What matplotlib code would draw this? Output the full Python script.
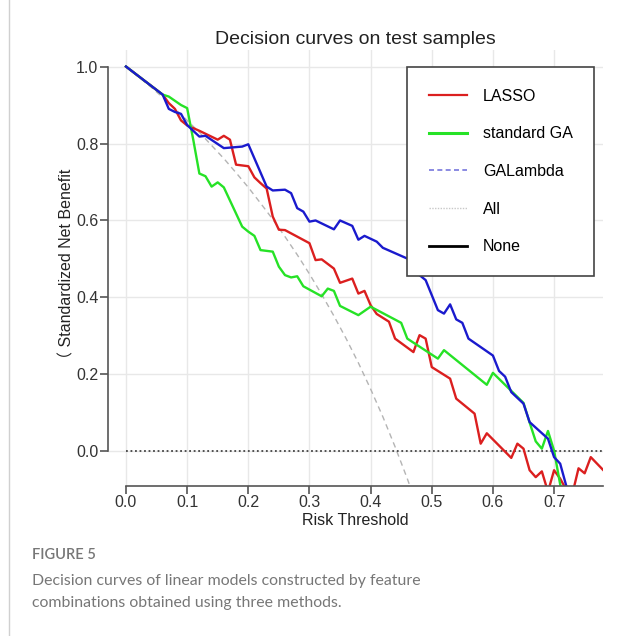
import matplotlib.pyplot as plt
from matplotlib.lines import Line2D

plt.rcParams["font.family"] = ["Liberation Sans", "Noto Sans CJK SC", "DejaVu Sans"]
plt.rcParams["font.size"] = 11.5
plt.rcParams["axes.linewidth"] = 1.2

# thresholds / standardized net benefit
thr_lasso = [0.00, 0.06, 0.07, 0.08, 0.09, 0.10, 0.12, 0.15, 0.16, 0.17, 0.18, 0.20,
             0.21, 0.22, 0.23, 0.24, 0.25, 0.26, 0.30, 0.31, 0.32, 0.34, 0.35, 0.37,
             0.38, 0.39, 0.40, 0.41, 0.43, 0.44, 0.47, 0.48, 0.49, 0.50, 0.53, 0.54,
             0.57, 0.58, 0.59, 0.63, 0.64, 0.65, 0.66, 0.67, 0.68, 0.69, 0.70, 0.71,
             0.72, 0.73, 0.74, 0.75, 0.76, 0.78]
nb_lasso = [1.000, 0.927, 0.905, 0.890, 0.860, 0.847, 0.833, 0.810, 0.820, 0.810, 0.745, 0.741,
            0.712, 0.697, 0.683, 0.610, 0.576, 0.575, 0.541, 0.497, 0.499, 0.475, 0.438, 0.449,
            0.410, 0.417, 0.380, 0.357, 0.337, 0.293, 0.258, 0.302, 0.293, 0.219, 0.189, 0.137,
            0.098, 0.020, 0.047, -0.017, 0.020, 0.007, -0.049, -0.067, -0.052, -0.105, -0.049, -0.071,
            -0.100, -0.110, -0.044, -0.057, -0.015, -0.048]

thr_ga = [0.00, 0.06, 0.07, 0.09, 0.10, 0.11, 0.12, 0.13, 0.14, 0.15, 0.16, 0.19,
          0.20, 0.21, 0.22, 0.24, 0.25, 0.26, 0.27, 0.28, 0.29, 0.32, 0.33, 0.34,
          0.35, 0.38, 0.40, 0.45, 0.46, 0.51, 0.52, 0.59, 0.60, 0.65, 0.66, 0.67,
          0.68, 0.69, 0.70, 0.71, 0.72]
nb_ga = [1.000, 0.927, 0.922, 0.900, 0.892, 0.810, 0.722, 0.715, 0.688, 0.699, 0.686, 0.584,
         0.571, 0.560, 0.523, 0.519, 0.480, 0.458, 0.452, 0.455, 0.429, 0.403, 0.423, 0.417,
         0.378, 0.354, 0.376, 0.334, 0.293, 0.241, 0.263, 0.173, 0.204, 0.126, 0.075, 0.026,
         0.007, 0.053, 0.002, -0.086, -0.150]

thr_gal = [0.00, 0.06, 0.07, 0.08, 0.09, 0.10, 0.12, 0.13, 0.16, 0.19, 0.20, 0.23,
           0.24, 0.26, 0.27, 0.28, 0.29, 0.30, 0.31, 0.34, 0.35, 0.37, 0.38, 0.39,
           0.41, 0.42, 0.46, 0.48, 0.49, 0.51, 0.52, 0.53, 0.54, 0.55, 0.56, 0.60,
           0.61, 0.62, 0.63, 0.65, 0.66, 0.69, 0.70, 0.71, 0.72, 0.73]
nb_gal = [1.000, 0.927, 0.890, 0.882, 0.877, 0.848, 0.818, 0.820, 0.788, 0.792, 0.798, 0.688,
          0.678, 0.680, 0.671, 0.632, 0.623, 0.597, 0.600, 0.577, 0.600, 0.586, 0.550, 0.560,
          0.545, 0.529, 0.501, 0.458, 0.445, 0.367, 0.358, 0.382, 0.343, 0.334, 0.293, 0.249,
          0.209, 0.194, 0.154, 0.124, 0.076, 0.033, -0.015, -0.032, -0.090, -0.150]

thr_all = [0.00, 0.02, 0.04, 0.06, 0.08, 0.10, 0.12, 0.14, 0.16, 0.18, 0.20, 0.22, 0.24,
           0.26, 0.28, 0.30, 0.32, 0.34, 0.36, 0.38, 0.40, 0.42, 0.44, 0.46, 0.48]
nb_all = [1.000, 0.974, 0.948, 0.920, 0.891, 0.860, 0.829, 0.795, 0.761, 0.724, 0.686, 0.645, 0.603,
          0.558, 0.511, 0.461, 0.408, 0.352, 0.293, 0.230, 0.162, 0.090, 0.012, -0.071, -0.160]

thr_none = [0.0, 0.78]
nb_none = [0.0, 0.0]

c_red = "#db1f1f"
c_green = "#26e226"
c_blue = "#1a1acd"

fig = plt.figure(figsize=(6.44, 6.36), dpi=100)
# axes box in pixels: left 108, right 603, top 50, bottom 486
ax = fig.add_axes([108 / 644, 1 - 486 / 636, (603 - 108) / 644, (486 - 50) / 636])

ax.plot(thr_all, nb_all, color="#b4b4b4", lw=1.0, ls=(0, (4, 3)))
ax.plot(thr_none, nb_none, color="#444444", lw=1.3, ls=(0, (1, 1.5)))
ax.plot(thr_lasso, nb_lasso, color=c_red, lw=1.7)
ax.plot(thr_ga, nb_ga, color=c_green, lw=1.7)
ax.plot(thr_gal, nb_gal, color=c_blue, lw=1.7)

ax.set_xlim(-0.0294, 0.78)
ax.set_ylim(-0.09, 1.043)
ax.set_xticks([0.0, 0.1, 0.2, 0.3, 0.4, 0.5, 0.6, 0.7])
ax.set_yticks([0.0, 0.2, 0.4, 0.6, 0.8, 1.0])
ax.grid(color="#e8e8e8", lw=1.0)
ax.set_axisbelow(True)

for s in ["top", "right"]:
    ax.spines[s].set_visible(False)
ax.spines["left"].set_bounds(0.0, 1.0)
ax.spines["bottom"].set_bounds(0.0, 0.78)
ax.spines["left"].set_color("#555555")
ax.spines["bottom"].set_color("#555555")
ax.tick_params(axis="x", direction="out", length=5.5, width=1.2, pad=1, color="#555555",
               labelcolor="#333333")
ax.tick_params(axis="y", direction="out", length=6, width=1.2, pad=1, color="#555555",
               labelcolor="#333333")

ax.set_title("Decision curves on test samples", fontsize=14, pad=4, color="#222222")
ax.set_xlabel("Risk Threshold", fontsize=11.5, labelpad=2, color="#222222")
ax.set_ylabel("（ Standardized Net Benefit", fontsize=11.5, labelpad=1, color="#222222")

handles = [
    Line2D([], [], color=c_red, lw=1.6),
    Line2D([], [], color=c_green, lw=2.2),
    Line2D([], [], color="#7777dd", lw=1.2, ls=(0, (3, 2))),
    Line2D([], [], color="#c8c8c8", lw=1.0, ls=(0, (1, 1))),
    Line2D([], [], color="black", lw=2.0),
]
labels = ["LASSO", "standard GA", "GALambda", "All", "None"]
leg = fig.legend(handles, labels, loc="upper left", bbox_to_anchor=(407 / 644, 1 - 67 / 636),
                 fontsize=11.5, frameon=True, fancybox=False, edgecolor="#444444",
                 framealpha=1.0, labelspacing=1.42, handlelength=2.4, handletextpad=1.0,
                 borderpad=1.35, borderaxespad=0)
leg.get_frame().set_linewidth(1.2)

# card border and caption
fig.add_artist(Line2D([9 / 644, 9 / 644], [0, 1], color="#d0d0d0", lw=1.0))
fig.text(32 / 644, 1 - 555 / 636, "FIGURE 5", fontsize=10.5, color="#777777",
         family="Lato", weight="semibold", va="center", ha="left")
fig.text(32 / 644, 1 - 581 / 636, "Decision curves of linear models constructed by feature",
         fontsize=11.4, color="#777777", family="Lato", va="center", ha="left")
fig.text(32 / 644, 1 - 603 / 636, "combinations obtained using three methods.",
         fontsize=11.4, color="#777777", family="Lato", va="center", ha="left")

fig.savefig("out.png", dpi=100)
